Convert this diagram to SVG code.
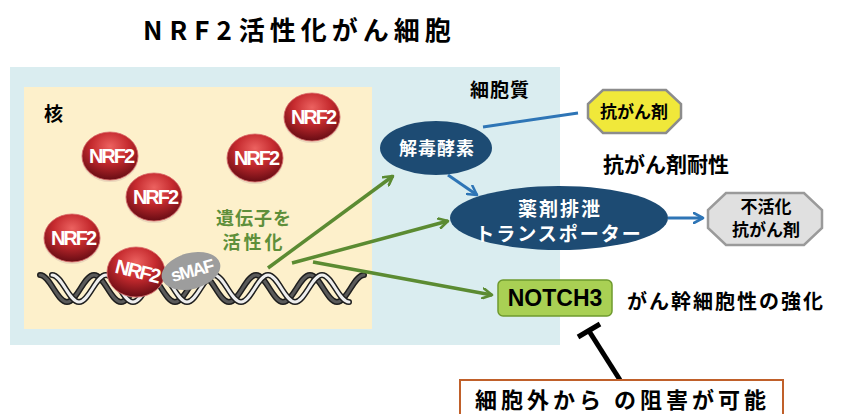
<svg xmlns="http://www.w3.org/2000/svg" width="843" height="414" viewBox="0 0 843 414">
  <defs>
    <style>
      .jp { font-family: "Noto Sans CJK JP", "Noto Sans", sans-serif; font-weight: 700; }
      .lat { font-family: "Liberation Sans", Arial, sans-serif; font-weight: 700; }
      .ball-label { fill: #ffffff; font-size: 20px; letter-spacing: -2px; text-anchor: middle; }
      .green-line { stroke: #5b8b32; stroke-width: 3.5; fill: none; }
      .blue-line { stroke: #2e75b6; stroke-width: 3; fill: none; }
      .node-text { fill: #ffffff; text-anchor: middle; }
      .strand-edge { fill: none; stroke: #1e1e1e; stroke-width: 6; stroke-linecap: round; }
    </style>
    <radialGradient id="ballGrad" cx="0.5" cy="0.3" r="0.75">
      <stop offset="0" stop-color="#ec6260"/>
      <stop offset="0.45" stop-color="#c52a2e"/>
      <stop offset="1" stop-color="#5a0810"/>
    </radialGradient>
    <marker id="arrGreen" viewBox="0 0 12 12" refX="10" refY="6" markerWidth="12" markerHeight="12" markerUnits="userSpaceOnUse" orient="auto">
      <path d="M1,1 L10,6 L1,11" fill="none" stroke="#5b8b32" stroke-width="2.6" stroke-linecap="round" stroke-linejoin="round"/>
    </marker>
    <marker id="arrBlue" viewBox="0 0 12 12" refX="10" refY="6" markerWidth="12" markerHeight="12" markerUnits="userSpaceOnUse" orient="auto">
      <path d="M1,1 L10,6 L1,11" fill="none" stroke="#2e75b6" stroke-width="2.6" stroke-linecap="round" stroke-linejoin="round"/>
    </marker>
    <g id="nrf2">
      <ellipse cx="0" cy="1.5" rx="28.5" ry="24.5" fill="#c9a9a0" opacity="0.35"/>
      <ellipse cx="0" cy="0" rx="28" ry="24" fill="url(#ballGrad)" stroke="#d86a6a" stroke-width="0.8"/>
      <text class="lat ball-label" x="1" y="7">NRF2</text>
    </g>
    <path id="strandA" d="M40,276 C50,276 57,303 67,303 S84,276 94,276 S111,303 121,303 S138,276 148,276 S165,303 175,303 S192,276 202,276 S219,303 229,303 S246,276 256,276 S273,303 283,303 S300,276 310,276 S327,303 337,303 S354,276 364,276"/>
    <path id="strandB" d="M52,276 C62,276 69,303 79,303 S96,276 106,276 S123,303 133,303 S150,276 160,276 S177,303 187,303 S204,276 214,276 S231,303 241,303 S258,276 268,276 S285,303 295,303 S312,276 322,276 S339,303 349,303"/>
  </defs>

  <!-- title -->
  <text class="jp" x="143" y="40" font-size="26" fill="#000"><tspan letter-spacing="7">NRF2</tspan><tspan letter-spacing="5">活性化がん細胞</tspan></text>

  <!-- cell and nucleus -->
  <g id="cell">
    <rect x="10" y="67" width="550" height="278" fill="#daedf0"/>
    <text class="jp" x="470" y="97" font-size="19" letter-spacing="1" fill="#000">細胞質</text>
  </g>
  <g id="nucleus">
    <rect x="24" y="87" width="348" height="242" fill="#fdf0cb"/>
    <text class="jp" x="44" y="121" font-size="19" fill="#000">核</text>
  </g>

  <!-- free NRF2 -->
  <g id="nrf2-a"><use href="#nrf2" x="110" y="156"/></g>
  <g id="nrf2-b"><use href="#nrf2" x="154" y="197"/></g>
  <g id="nrf2-c"><use href="#nrf2" x="255" y="158"/></g>
  <g id="nrf2-d"><use href="#nrf2" x="312" y="117"/></g>
  <g id="nrf2-e"><use href="#nrf2" x="72" y="238"/></g>

  <!-- DNA double helix: two ribbon strands -->
  <g id="dna" transform="translate(0 -1)">
    <use href="#strandA" class="strand-edge"/>
    <use href="#strandA" fill="none" stroke="#5a5a5a" stroke-width="3" stroke-linecap="round"/>
    <use href="#strandB" class="strand-edge"/>
    <use href="#strandB" fill="none" stroke="#eeeeee" stroke-width="3" stroke-linecap="round"/>
  </g>

  <!-- NRF2 / sMAF bound on DNA -->
  <g id="nrf2-bound">
    <ellipse cx="136" cy="273" rx="29" ry="25" fill="#c9a9a0" opacity="0.35"/>
    <ellipse cx="136" cy="272" rx="29" ry="25" fill="url(#ballGrad)" stroke="#d86a6a" stroke-width="0.8"/>
    <text class="lat ball-label" x="137" y="278" transform="rotate(14 137 272)">NRF2</text>
  </g>
  <g id="smaf">
    <ellipse cx="191" cy="271" rx="30" ry="18" fill="#9d9d9d" transform="rotate(-15 191 271)"/>
    <text class="lat" x="192" y="277" font-size="18" letter-spacing="-1.5" fill="#fff" text-anchor="middle" transform="rotate(-15 191 271)">sMAF</text>
  </g>

  <!-- label on activation -->
  <g id="activation-label">
    <text class="jp" x="254" y="225" font-size="18" letter-spacing="1" fill="#5e8f3a" text-anchor="middle">遺伝子を</text>
    <text class="jp" x="254" y="249" font-size="18" letter-spacing="3" fill="#5e8f3a" text-anchor="middle">活性化</text>
  </g>

  <!-- connectors -->
  <g id="connectors">
    <line class="green-line" x1="268" y1="268" x2="393" y2="176" marker-end="url(#arrGreen)"/>
    <line class="green-line" x1="292" y1="263" x2="448" y2="221" marker-end="url(#arrGreen)"/>
    <line class="green-line" x1="313" y1="262" x2="492" y2="295" marker-end="url(#arrGreen)"/>
    <line class="blue-line" x1="483" y1="127" x2="578" y2="113"/>
    <line class="blue-line" x1="448" y1="175" x2="477" y2="195" marker-end="url(#arrBlue)"/>
    <line class="blue-line" x1="668" y1="218" x2="703" y2="218" marker-end="url(#arrBlue)"/>
    <!-- inhibition -->
    <line x1="620" y1="380" x2="589" y2="331" stroke="#000" stroke-width="5"/>
    <line x1="578" y1="337" x2="600" y2="324" stroke="#000" stroke-width="5"/>
  </g>

  <!-- detox enzymes -->
  <g id="detox">
    <ellipse cx="436" cy="148" rx="56" ry="27" fill="#1d4b73"/>
    <text class="jp node-text" x="437" y="155" font-size="18" letter-spacing="1">解毒酵素</text>
  </g>

  <!-- drug efflux transporter -->
  <g id="transporter">
    <ellipse cx="559" cy="218" rx="109" ry="32" fill="#1d4b73"/>
    <text class="jp node-text" x="560" y="216" font-size="19" letter-spacing="2">薬剤排泄</text>
    <text class="jp node-text" x="559" y="241" font-size="19" letter-spacing="2">トランスポーター</text>
  </g>

  <!-- anticancer drug -->
  <g id="drug">
    <polygon points="603,90 666,90 681,104 681,118 666,133 603,133 588,118 588,104" fill="#f0e83a" stroke="#8c8c8c" stroke-width="2.5"/>
    <text class="jp" x="634" y="118" font-size="17" fill="#000" text-anchor="middle">抗がん剤</text>
  </g>

  <!-- inactivated drug -->
  <g id="inactive-drug">
    <polygon points="726,193 804,193 822,210 822,228 804,245 726,245 708,228 708,210" fill="#e0e0e0" stroke="#9a9a9a" stroke-width="2.5"/>
    <text class="jp" x="766" y="213" font-size="17" fill="#000" text-anchor="middle">不活化</text>
    <text class="jp" x="766" y="236" font-size="17" fill="#000" text-anchor="middle">抗がん剤</text>
  </g>

  <text class="jp" x="603" y="172" font-size="21" fill="#000">抗がん剤耐性</text>

  <!-- NOTCH3 -->
  <g id="notch3">
    <rect x="498" y="280" width="114" height="36" rx="5" fill="#a9d054" stroke="#6f9a2e" stroke-width="1.5"/>
    <text class="lat" x="555" y="306" font-size="23" fill="#000" text-anchor="middle">NOTCH3</text>
  </g>
  <text class="jp" x="627" y="309" font-size="20" letter-spacing="2" fill="#000">がん幹細胞性の強化</text>

  <!-- extracellular inhibition note -->
  <g id="inhibit-note">
    <rect x="460" y="380" width="323" height="44" fill="#ffffff" stroke="#c0602a" stroke-width="2"/>
    <text class="jp" x="475" y="408" font-size="22" letter-spacing="4" fill="#000">細胞外から の阻害が可能</text>
  </g>
</svg>
